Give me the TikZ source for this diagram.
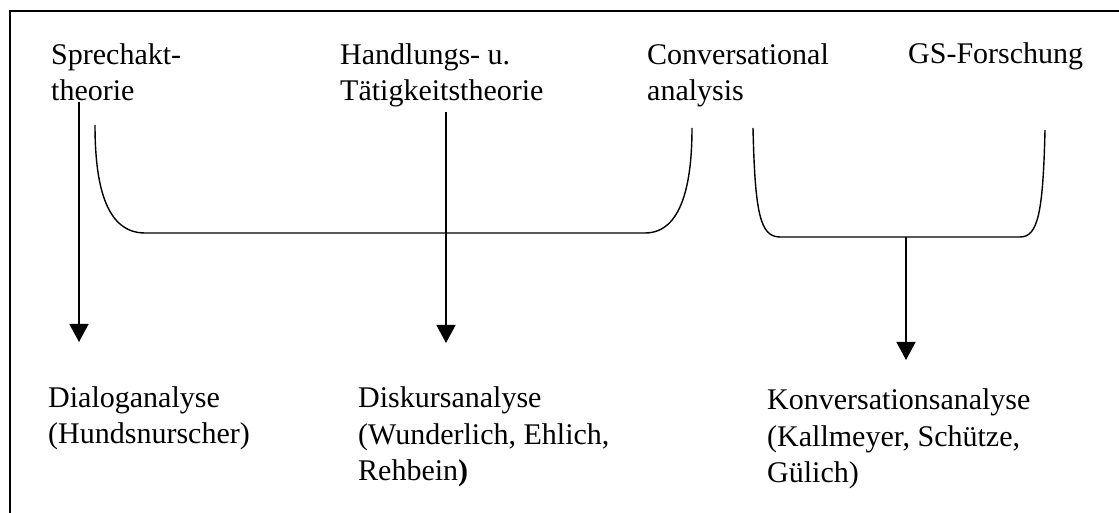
\documentclass[tikz,border=0pt]{standalone}
\usepackage{fontspec}
\setmainfont{Liberation Serif}
\usetikzlibrary{arrows.meta}
\begin{document}
\begin{tikzpicture}[x=1pt,y=1pt,
  lbl/.style={anchor=base west, inner sep=0pt, align=left,
              font=\fontsize{30}{36.5}\selectfont},
  link/.style={line width=1.4pt, black},
  into/.style={link, -{Triangle[length=18pt,width=19pt]}},
  frameline/.style={line width=2pt}]
\useasboundingbox (0,0) rectangle (1119,513);

% open frame: left and top edges
\draw[frameline] (10,0) -- (10,502) -- (1119,502);

% source traditions (anchor = baseline of the last line)
\node[lbl] (sprech)  at (51,412)  {Sprechakt-\\theorie};
\node[lbl] (handl)   at (340,412) {Handlungs- u.\\Tätigkeitstheorie};
\node[lbl] (conv)    at (647,412) {Conversational\\analysis};
\node[lbl] (gs)      at (908,449) {GS-Forschung};

% resulting research directions
\node[lbl] (dialog)  at (48,69)   {Dialoganalyse\\(Hundsnurscher)};
\node[lbl] (diskurs) at (358,32)  {Diskursanalyse\\(Wunderlich, Ehlich,\\Rehbein\textbf{)}};
\node[lbl] (konv)    at (767,30)  {Konversationsanalyse\\(Kallmeyer, Schütze,\\Gülich)};

% arrow end points
\coordinate (sprechOut) at (79,411);
\coordinate (dialogIn)  at (79,171);
\coordinate (handlOut)  at (446,401);
\coordinate (diskursIn) at (446,170);

% bracket ends
\coordinate (brA1) at (95,388);
\coordinate (brA2) at (692,385);
\coordinate (brB1) at (753,385);
\coordinate (brB2) at (1045,383);
\coordinate (stem)   at (906,276);
\coordinate (konvIn) at (906,153);

% straight derivations
\draw[into] (sprechOut) -- (dialogIn);
\draw[into] (handlOut) -- (diskursIn);

% bracket joining Sprechakttheorie and Conversational analysis
\draw[link] (brA1) .. controls (95,330) and (105,280) .. (145,280)
  -- (645,280) .. controls (682,280) and (692,330) .. (brA2);

% bracket joining Conversational analysis and GS-Forschung
\draw[link] (brB1) .. controls (755,300) and (760,276) .. (780,276)
  -- (1020,276) .. controls (1038,276) and (1043,300) .. (brB2);
\draw[into] (stem) -- (konvIn);
\end{tikzpicture}
\end{document}
